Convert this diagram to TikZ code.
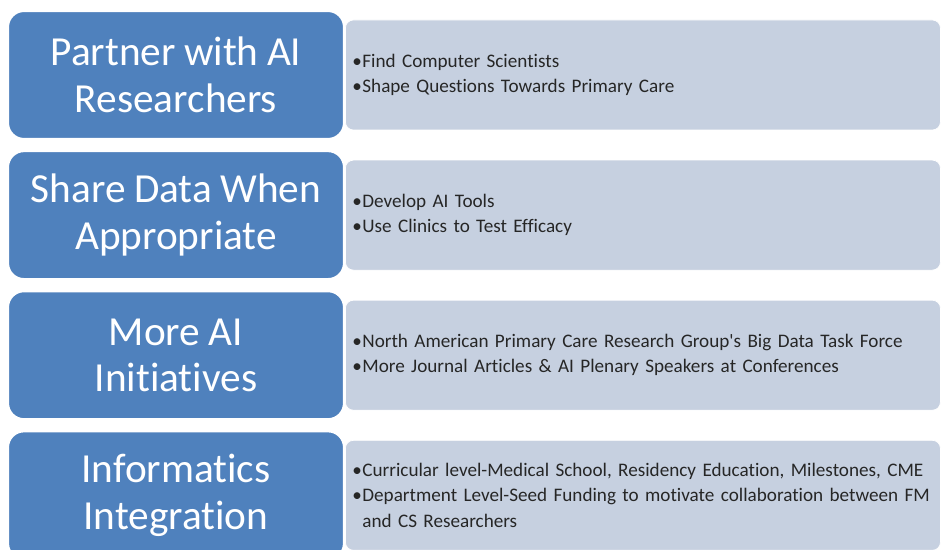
\documentclass[tikz,border=0pt]{standalone}
\usepackage{fontspec}
\setmainfont{Carlito}[Ligatures={NoCommon}, WordSpace=0.9]
\usetikzlibrary{positioning}

\definecolor{headblue}{RGB}{79,129,189}
\definecolor{listgray}{RGB}{198,208,224}
% bullet item with a fixed indent
\newcommand{\itm}[1]{\makebox[0.2cm][l]{\textbullet}#1}

\begin{document}
\begin{tikzpicture}[
        node distance=0.2cm,
        head/.style={draw=white, line width=1.2pt, fill=headblue, rounded corners=0.32cm,
            minimum width=6.72cm, minimum height=2.56cm, align=center, text=white,
            font=\fontsize{23.5}{26.5}\selectfont},
        list/.style={draw=white, thin, fill=listgray, rounded corners=0.16cm,
            minimum width=11.9cm, minimum height=2.2cm, text width=11.62cm, inner xsep=0.14cm,
            align=left, text=black!85, font=\fontsize{10.9}{14.4}\selectfont}
    ]
        \useasboundingbox (0,0) rectangle (18.84,-11);

        \node[head] (pa) at (3.52,-1.5) {Partner with AI\\Researchers};
        \node[head, below=of pa] (sd) {Share Data When\\Appropriate};
        \node[head, below=of sd] (mi) {More AI\\Initiatives};
        \node[head, below=of mi] (ii) {Informatics\\Integration};

        \node[list, right=0cm of pa] (pal) {\itm{Find Computer Scientists}\\
            \itm{Shape Questions Towards Primary Care}};
        \node[list, right=0cm of sd] (sdl) {\itm{Develop AI Tools}\\
            \itm{Use Clinics to Test Efficacy}};
        \node[list, right=0cm of mi] (mil) {\itm{North American Primary Care Research Group\textquotesingle s Big Data Task Force}\\
            \itm{More Journal Articles \& AI Plenary Speakers at Conferences}};
        \node[list, right=0cm of ii] (iil) {\itm{Curricular level-Medical School, Residency Education, Milestones, CME}\\
            \itm{Department Level-Seed Funding to motivate collaboration between FM}\\
            \hspace*{0.2cm}and CS Researchers};
\end{tikzpicture}
\end{document}
